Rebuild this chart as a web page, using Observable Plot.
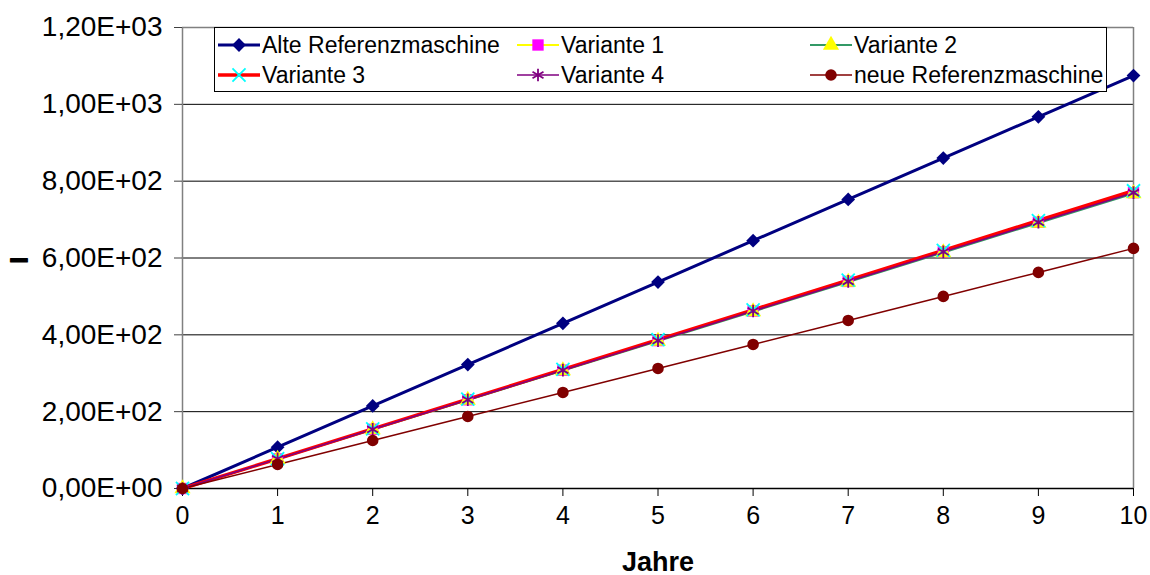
<!DOCTYPE html>
<html>
<head>
<meta charset="utf-8">
<script src="https://cdn.jsdelivr.net/npm/d3@7"></script>
<script src="https://cdn.jsdelivr.net/npm/@observablehq/plot@0.6"></script>
<style>
  body { margin: 0; background: #fff; }
  #wrap { position: relative; width: 1150px; height: 575px; font-family: "Liberation Sans", Arial, sans-serif; }
  #legend { position: absolute; left: 214px; top: 27px; }
</style>
</head>
<body>
<div id="wrap"><div id="chart"></div><div id="legend"></div></div>
<script>
// Kosten über die Jahre (Werte je Maschine)
const years = [0, 1, 2, 3, 4, 5, 6, 7, 8, 9, 10];
const alteReferenz = [0, 107.5, 215, 322.5, 430, 537.5, 645, 752.5, 860, 967.5, 1075];
const variante1 = [0, 77, 154, 231, 308, 385, 462, 539, 616, 693, 770];
const variante2 = [0, 76.8, 153.6, 230.4, 307.2, 384, 460.8, 537.6, 614.4, 691.2, 768];
const variante3 = [0, 77.5, 155, 232.5, 310, 387.5, 465, 542.5, 620, 697.5, 775];
const variante4 = [0, 77, 154, 231, 308, 385, 462, 539, 616, 693, 770];
const neueReferenz = [0, 62.5, 125, 187.5, 250, 312.5, 375, 437.5, 500, 562.5, 625];

const yTicks = [0, 200, 400, 600, 800, 1000, 1200];
const gridLines = [200, 400, 600, 800, 1000];
const xTicks = years;

const series = [
  {name: "Alte Referenzmaschine", values: alteReferenz, line: "#000080", width: 3, symbol: "diamond2", fill: "#000080", stroke: "none", r: 6.2},
  {name: "Variante 1", values: variante1, line: "#ffff00", width: 2, symbol: "square", fill: "#ff00ff", stroke: "none", r: 6.4},
  {name: "Variante 2", values: variante2, line: "#339966", width: 2, symbol: "triangle", fill: "#ffff00", stroke: "none", r: 6},
  {name: "Variante 3", values: variante3, line: "#ff0000", width: 3.5, symbol: "times", fill: "none", stroke: "#00ffff", r: 6},
  {name: "Variante 4", values: variante4, line: "#800080", width: 1.5, symbol: "asterisk", fill: "none", stroke: "#800080", r: 6},
  {name: "neue Referenzmaschine", values: neueReferenz, line: "#800000", width: 1.5, symbol: "circle", fill: "#800000", stroke: "none", r: 5.8}
];

const rows = series.flatMap(s => years.map((j, i) => ({series: s.name, jahr: j, wert: s.values[i]})));

// Excel-artige Zahlendarstellung: 1,20E+03
const sci = d => {
  const [m, e] = d.toExponential(2).split("e");
  const sign = e[0] === "-" ? "-" : "+";
  const digits = e.replace(/^[+-]/, "").padStart(2, "0");
  return m.replace(".", ",") + "E" + sign + digits;
};

const lineMarks = series.map(s => {
  const d = rows.filter(r => r.series === s.name);
  return Plot.line(d, {x: "jahr", y: "wert", stroke: s.line, strokeWidth: s.width});
});
const dotMarks = series.map(s => {
  const d = rows.filter(r => r.series === s.name);
  return Plot.dot(d, {x: "jahr", y: "wert", symbol: () => s.symbol, r: s.r,
    fill: s.fill, stroke: s.stroke, strokeWidth: s.stroke === "none" ? 0 : 1.8});
});

const chart = Plot.plot({
  width: 1150,
  height: 575,
  marginLeft: 182,
  marginRight: 17,
  marginTop: 27,
  marginBottom: 87,
  style: {fontFamily: "'Liberation Sans', Arial, sans-serif", fontSize: "24px", color: "#000", background: "#fff"},
  x: {domain: [0, 10], label: null},
  y: {domain: [0, 1200], label: null},
  symbol: {type: "identity"},
  marks: [
    Plot.ruleY(gridLines, {stroke: "#000", strokeWidth: 1}),
    Plot.ruleY([1200], {stroke: "#808080", strokeWidth: 1.5}),
    Plot.ruleX([0, 10], {stroke: "#808080", strokeWidth: 1.5}),
    Plot.ruleY([0], {stroke: "#000", strokeWidth: 1.5}),
    Plot.axisY({ticks: yTicks, tickFormat: sci, tickSize: 8, tickPadding: 12, fontSize: 28, label: null, stroke: "#404040"}),
    Plot.axisX({ticks: xTicks, tickFormat: d => String(d), tickSize: 8, tickPadding: 10, fontSize: 25, label: null, stroke: "#000"}),
    ...lineMarks,
    ...dotMarks,
    Plot.text(["Jahre"], {frameAnchor: "bottom", dy: 82, fontSize: 27, fontWeight: "bold", fill: "#000"}),
    Plot.text(["–"], {frameAnchor: "left", dx: -173, fontSize: 34, fontWeight: "bold", fill: "#000", stroke: "#000", strokeWidth: 1.2})
  ]
});
document.getElementById("chart").append(chart);

// Legende im Diagrammbereich
const lw = 893, lh = 65;
const colX = [4, 303, 596];
const rowY = [18, 48];
const leg = d3.select("#legend").append("svg").attr("width", lw).attr("height", lh)
  .style("font-family", "'Liberation Sans', Arial, sans-serif");
leg.append("rect").attr("x", 0.5).attr("y", 0.5).attr("width", lw - 1).attr("height", lh - 1)
  .attr("fill", "#fff").attr("stroke", "#000");
const symMap = {diamond2: d3.symbolDiamond2, square: d3.symbolSquare, triangle: d3.symbolTriangle,
  times: d3.symbolTimes, asterisk: d3.symbolAsterisk, circle: d3.symbolCircle};
series.forEach((s, i) => {
  const g = leg.append("g").attr("transform", `translate(${colX[i % 3]},${rowY[Math.floor(i / 3)]})`);
  g.append("line").attr("x1", 0).attr("x2", 42).attr("y1", 0).attr("y2", 0)
    .attr("stroke", s.line).attr("stroke-width", s.width);
  g.append("path").attr("transform", "translate(21,0)")
    .attr("d", d3.symbol(symMap[s.symbol], Math.PI * s.r * s.r)())
    .attr("fill", s.fill).attr("stroke", s.stroke).attr("stroke-width", s.stroke === "none" ? 0 : 1.8);
  g.append("text").attr("x", 44).attr("y", 0).attr("dy", "0.35em")
    .attr("font-size", 23).attr("fill", "#000").text(s.name);
});
</script>
</body>
</html>
